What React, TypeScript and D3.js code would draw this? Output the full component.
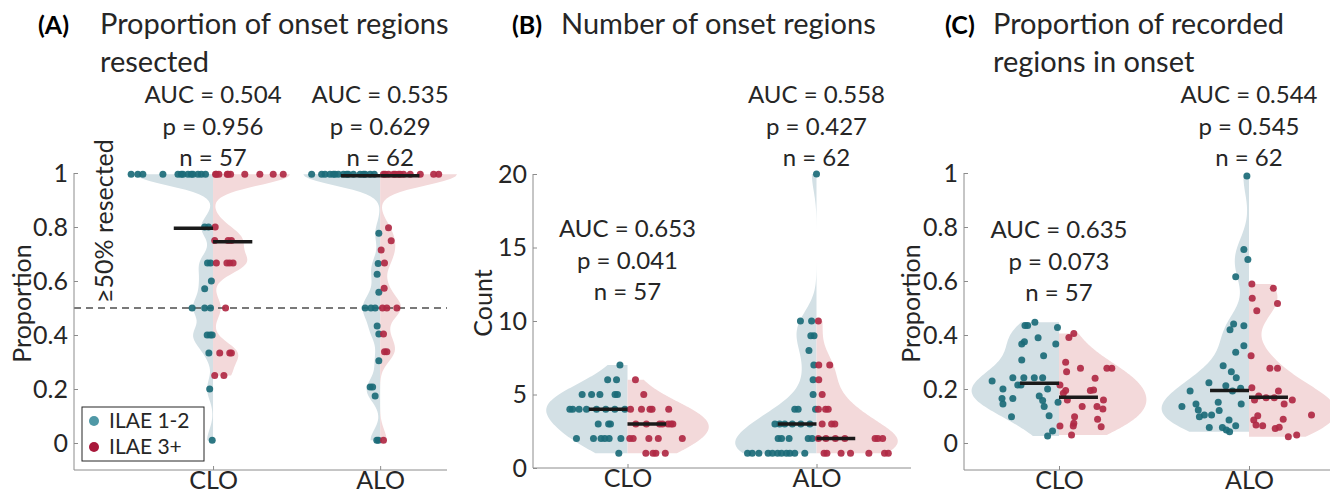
import React, { useEffect, useRef } from "react";
import * as d3 from "d3";

// ---- data ----
const groups = ["CLO", "ALO"];
const outcomes = ["ILAE 1-2", "ILAE 3+"];

// each point: [value, horizontal jitter in category units]
// (A) proportion of onset regions resected
const resectGoodCLO = [
  [0.995, 0.49], [0.995, 0.45], [0.995, 0.42], [0.995, 0.3], [0.995, 0.21], [0.995, 0.19], [0.995, 0.18],
  [0.995, 0.15], [0.995, 0.13], [0.995, 0.12], [0.995, 0.09], [0.995, 0.07], [0.995, 0.045],
  [0.8, 0.05], [0.8, 0.027], [0.667, 0.033], [0.667, 0.015], [0.6, 0.01], [0.571, 0.05],
  [0.5, 0.125], [0.5, 0.05], [0.5, 0.015], [0.4, 0.035], [0.4, 0.017], [0.4, 0.005],
  [0.333, 0.025], [0.2, 0.02], [0.01, 0.005],
];
const resectPoorCLO = [
  [0.995, 0.015], [0.995, 0.02], [0.995, 0.035], [0.995, 0.085], [0.995, 0.09], [0.995, 0.105],
  [0.995, 0.19], [0.995, 0.28], [0.995, 0.36], [0.995, 0.42],
  [0.8, 0.013], [0.75, 0.01], [0.75, 0.09], [0.75, 0.11], [0.667, 0.02], [0.667, 0.083], [0.667, 0.1],
  [0.667, 0.12], [0.5, 0.075], [0.333, 0.04], [0.333, 0.1], [0.333, 0.11], [0.25, 0.01], [0.25, 0.065],
];
const resectGoodALO = [
  [0.995, 0.41], [0.995, 0.35], [0.995, 0.33], [0.995, 0.3], [0.995, 0.28], [0.995, 0.27], [0.995, 0.25],
  [0.995, 0.22], [0.995, 0.2], [0.995, 0.19], [0.995, 0.16], [0.995, 0.12], [0.995, 0.1], [0.995, 0.09],
  [0.995, 0.06], [0.995, 0.035],
  [0.777, 0.008], [0.665, 0.012], [0.625, 0.018], [0.558, 0.008], [0.5, 0.09], [0.5, 0.055], [0.5, 0.03],
  [0.433, 0.018], [0.404, 0.008], [0.305, 0.008], [0.207, 0.06], [0.207, 0.045], [0.174, 0.03],
  [0.01, 0.02], [0.01, 0.01],
];
const resectPoorALO = [
  [0.995, 0.02], [0.995, 0.03], [0.995, 0.05], [0.995, 0.08], [0.995, 0.09], [0.995, 0.11], [0.995, 0.12],
  [0.995, 0.14], [0.995, 0.18], [0.995, 0.24], [0.995, 0.32], [0.995, 0.35],
  [0.797, 0.05], [0.749, 0.066], [0.715, 0.006], [0.667, 0.026], [0.573, 0.024], [0.5, 0.014],
  [0.5, 0.04], [0.5, 0.1], [0.404, 0.02], [0.338, 0.026], [0.338, 0.04], [0.01, 0.02],
];

// (B) number of onset regions
const countGoodCLO = [
  [7, 0.04], [6, 0.105], [6, 0.058], [5, 0.24], [5, 0.19], [5, 0.146], [5, 0.066], [5, 0.053],
  [4, 0.305], [4, 0.29], [4, 0.256], [4, 0.217], [4, 0.164], [4, 0.115], [4, 0.067], [4, 0.014],
  [3, 0.155], [3, 0.1], [3, 0.09], [2, 0.27], [2, 0.18], [2, 0.14], [2, 0.12], [2, 0.097], [2, 0.035],
  [1, 0.046],
];
const countPoorCLO = [
  [6, 0.042], [5, 0.086], [4, 0.016], [4, 0.074], [4, 0.119], [4, 0.13], [4, 0.218],
  [3, 0.044], [3, 0.1], [3, 0.17], [3, 0.185], [3, 0.215], [3, 0.23], [3, 0.24],
  [2, 0.012], [2, 0.03], [2, 0.113], [2, 0.163], [2, 0.29], [1, 0.097], [1, 0.135], [1, 0.15], [1, 0.2],
];
const countGoodALO = [
  [20, 0], [10, 0.085], [10, 0.026], [9, 0.03], [9, 0.013], [8, 0.04], [7, 0.014], [6, 0.018], [5, 0.018],
  [4, 0.115], [4, 0.097], [4, 0.005], [3, 0.22], [3, 0.195], [3, 0.168], [3, 0.128], [3, 0.083], [3, 0.035],
  [2, 0.203], [2, 0.185], [2, 0.145], [2, 0.044], [2, 0.023],
  [1, 0.365], [1, 0.34], [1, 0.305], [1, 0.256], [1, 0.233], [1, 0.206], [1, 0.185], [1, 0.159],
  [1, 0.141], [1, 0.115], [1, 0.062],
];
const countPoorALO = [
  [10, 0.01], [7, 0.012], [7, 0.07], [6, 0.012], [5, 0.03], [4, 0.01], [4, 0.048], [4, 0.062],
  [3, 0.03], [3, 0.08], [3, 0.097], [2, 0.01], [2, 0.05], [2, 0.1], [2, 0.15], [2, 0.31], [2, 0.325],
  [2, 0.35], [1, 0.04], [1, 0.055], [1, 0.13], [1, 0.18], [1, 0.277], [1, 0.36], [1, 0.38],
];

// (C) proportion of recorded regions in onset
const recordedGoodCLO = [
  [0.23, 0.352], [0.2, 0.295], [0.165, 0.3], [0.144, 0.295], [0.097, 0.25], [0.165, 0.243], [0.242, 0.243],
  [0.215, 0.217], [0.307, 0.196], [0.367, 0.196], [0.375, 0.182], [0.435, 0.179], [0.435, 0.165],
  [0.447, 0.127], [0.39, 0.11], [0.323, 0.081], [0.367, 0.017], [0.428, 0.008], [0.215, 0.2],
  [0.242, 0.185], [0.242, 0.13], [0.242, 0.086], [0.174, 0.104], [0.157, 0.086], [0.135, 0.078],
  [0.2, 0.06], [0.101, 0.052], [0.026, 0.06], [0.044, 0.034], [0.151, 0.005],
];
const recordedPoorCLO = [
  [0.406, 0.078], [0.391, 0.052], [0.299, 0.035], [0.264, 0.04], [0.277, 0.113], [0.215, 0.005],
  [0.194, 0.035], [0.063, 0.005], [0.073, 0.078], [0.063, 0.075], [0.03, 0.066], [0.135, 0.122],
  [0.194, 0.165], [0.196, 0.182], [0.24, 0.19], [0.135, 0.2], [0.088, 0.203], [0.06, 0.222],
  [0.159, 0.234], [0.126, 0.231], [0.277, 0.252], [0.277, 0.278], [0.097, 0.082], [0.159, 0.044],
  [0.184, 0.023],
];
const recordedGoodALO = [
  [0.989, 0.011], [0.717, 0.027], [0.68, 0.006], [0.616, 0.07], [0.441, 0.081], [0.419, 0.1],
  [0.434, 0.027], [0.36, 0.027], [0.336, 0.07], [0.286, 0.136], [0.264, 0.093], [0.242, 0.067],
  [0.223, 0.211], [0.212, 0.122], [0.203, 0.044], [0.193, 0.087], [0.193, 0.31], [0.135, 0.353],
  [0.144, 0.279], [0.122, 0.267], [0.104, 0.235], [0.097, 0.261], [0.104, 0.197], [0.151, 0.162],
  [0.12, 0.157], [0.144, 0.041], [0.085, 0.105], [0.064, 0.07], [0.057, 0.209], [0.057, 0.14],
  [0.048, 0.119], [0.042, 0.102],
];
const recordedPoorALO = [
  [0.589, 0.015], [0.573, 0.128], [0.536, 0.017], [0.517, 0.15], [0.49, 0.041], [0.323, 0.011],
  [0.277, 0.11], [0.277, 0.15], [0.205, 0.015], [0.193, 0.155], [0.159, 0.029], [0.174, 0.051],
  [0.168, 0.09], [0.168, 0.133], [0.144, 0.185], [0.159, 0.228], [0.104, 0.329], [0.088, 0.18],
  [0.101, 0.046], [0.085, 0.025], [0.067, 0.037], [0.064, 0.072], [0.054, 0.138], [0.058, 0.159],
  [0.023, 0.207], [0.03, 0.251],
];

// medians per group [CLO, ALO]
const mediansResectGood = [0.795, 0.99];
const mediansResectPoor = [0.745, 0.99];
const mediansCountGood = [4, 3];
const mediansCountPoor = [3, 2];
const mediansRecordedGood = [0.221, 0.194];
const mediansRecordedPoor = [0.169, 0.169];

const statsResect = [["AUC = 0.504", "p = 0.956", "n = 57"], ["AUC = 0.535", "p = 0.629", "n = 62"]];
const statsCount = [["AUC = 0.653", "p = 0.041", "n = 57"], ["AUC = 0.558", "p = 0.427", "n = 62"]];
const statsRecorded = [["AUC = 0.635", "p = 0.073", "n = 57"], ["AUC = 0.544", "p = 0.545", "n = 62"]];

const propTicks = [0, 0.2, 0.4, 0.6, 0.8, 1];
const countTicks = [0, 5, 10, 15, 20];

const panels = [
  {
    tag: "(A)", title: ["Proportion of onset regions", "resected"], ylabel: "Proportion",
    left: 74, right: 447, top: 173, bottom: 470, xDomain: [0.168, 2.4], yDomain: [-0.1, 1],
    ticks: propTicks, bw: 0.04, vWidth: 0.46, medHalf: 0.235, tagX: 38, titleX: 100, ylabelX: 22,
    good: [resectGoodCLO, resectGoodALO], poor: [resectPoorCLO, resectPoorALO],
    medGood: mediansResectGood, medPoor: mediansResectPoor, stats: statsResect, statY: [95, 95],
    threshold: 0.5, legend: true,
  },
  {
    tag: "(B)", title: ["Number of onset regions"], ylabel: "Count",
    left: 533, right: 911, top: 174, bottom: 468, xDomain: [0.5, 2.5], yDomain: [0, 20],
    ticks: countTicks, bw: 1.15, vWidth: 0.43, medHalf: 0.205, tagX: 512, titleX: 561, ylabelX: 483,
    good: [countGoodCLO, countGoodALO], poor: [countPoorCLO, countPoorALO],
    medGood: mediansCountGood, medPoor: mediansCountPoor, stats: statsCount, statY: [229, 95],
  },
  {
    tag: "(C)", title: ["Proportion of recorded", "regions in onset"], ylabel: "Proportion",
    left: 964, right: 1344, top: 173, bottom: 470, xDomain: [0.5, 2.5], yDomain: [-0.1, 1],
    ticks: propTicks, bw: 0.07, vWidth: 0.46, medHalf: 0.205, tagX: 945, titleX: 993, ylabelX: 911,
    good: [recordedGoodCLO, recordedGoodALO], poor: [recordedPoorCLO, recordedPoorALO],
    medGood: mediansRecordedGood, medPoor: mediansRecordedPoor, stats: statsRecorded, statY: [230, 95],
  },
];

const FONT = "Lato, 'Open Sans', sans-serif";
const TXT = "#262626";
const AXIS = "#8c8c8c";
const colors = {
  goodFill: "#d3e0e5", poorFill: "#f3d9da",
  goodDot: "#1b6b78", poorDot: "#b02944",
  goodLegend: "#4f98a6", poorLegend: "#a8173a",
};

// gaussian kernel density over the data range
const kde = (values, bw, steps = 120) => {
  const lo = d3.min(values), hi = d3.max(values);
  return d3.range(steps + 1).map((i) => {
    const y = lo + ((hi - lo) * i) / steps;
    const d = d3.mean(values, (v) => Math.exp(-0.5 * ((y - v) / bw) ** 2)) / (bw * Math.sqrt(2 * Math.PI));
    return [y, d];
  });
};

const App = () => {
  const ref = useRef(null);

  useEffect(() => {
    const svg = d3.select(ref.current);
    svg.selectAll("*").remove();

    panels.forEach((p) => {
      const x = d3.scaleLinear().domain(p.xDomain).range([p.left, p.right]);
      const y = d3.scaleLinear().domain(p.yDomain).range([p.bottom, p.top]);
      const unit = x(2) - x(1);
      const g = svg.append("g");

      // title
      g.append("text").attr("x", p.tagX).attr("y", 34).attr("font-weight", "bold").attr("font-size", 25)
        .attr("font-family", FONT).attr("fill", "#000").text(p.tag);
      p.title.forEach((t, i) => {
        g.append("text").attr("x", p.titleX).attr("y", 34 + i * 38).attr("font-size", 29)
          .attr("font-family", FONT).attr("fill", TXT).text(t);
      });

      // violins, each half scaled to its own peak
      const halfArea = (pts, cx, side) => {
        const dens = kde(pts.map((d) => d[0]), p.bw);
        const maxD = d3.max(dens, (d) => d[1]);
        return d3.area().y((d) => y(d[0])).x0(cx)
          .x1((d) => cx + side * (d[1] / maxD) * p.vWidth * unit)(dens);
      };
      groups.forEach((grp, gi) => {
        const cx = x(gi + 1);
        g.append("path").attr("d", halfArea(p.good[gi], cx, -1)).attr("fill", colors.goodFill);
        g.append("path").attr("d", halfArea(p.poor[gi], cx, 1)).attr("fill", colors.poorFill);
      });

      // threshold line
      if (p.threshold !== undefined) {
        g.append("line").attr("x1", p.left).attr("x2", p.right)
          .attr("y1", y(p.threshold)).attr("y2", y(p.threshold))
          .attr("stroke", "#4d4d4d").attr("stroke-width", 1.3).attr("stroke-dasharray", "7,5");
        g.append("text").attr("transform", `translate(104,${y(p.threshold) - 5}) rotate(-90)`)
          .attr("dy", "0.35em").attr("font-size", 25).attr("font-family", FONT).attr("fill", TXT)
          .text("≥50% resected");
      }

      // points
      groups.forEach((grp, gi) => {
        const cx = x(gi + 1);
        g.append("g").selectAll("circle").data(p.good[gi]).join("circle")
          .attr("cx", (d) => cx - d[1] * unit).attr("cy", (d) => y(d[0])).attr("r", 3.5)
          .attr("fill", colors.goodDot).attr("fill-opacity", 0.92);
        g.append("g").selectAll("circle").data(p.poor[gi]).join("circle")
          .attr("cx", (d) => cx + d[1] * unit).attr("cy", (d) => y(d[0])).attr("r", 3.5)
          .attr("fill", colors.poorDot).attr("fill-opacity", 0.92);
        // medians
        g.append("line").attr("x1", cx - p.medHalf * unit).attr("x2", cx)
          .attr("y1", y(p.medGood[gi])).attr("y2", y(p.medGood[gi]))
          .attr("stroke", "#1a1a1a").attr("stroke-width", 3.5);
        g.append("line").attr("x1", cx).attr("x2", cx + p.medHalf * unit)
          .attr("y1", y(p.medPoor[gi])).attr("y2", y(p.medPoor[gi]))
          .attr("stroke", "#1a1a1a").attr("stroke-width", 3.5);
        // stats
        p.stats[gi].forEach((s, li) => {
          g.append("text").attr("x", cx).attr("y", p.statY[gi] + li * 31.5).attr("dy", "0.35em")
            .attr("text-anchor", "middle").attr("font-size", 24).attr("font-family", FONT)
            .attr("fill", TXT).text(s);
        });
      });

      // axes
      const yAxis = g.append("g").attr("transform", `translate(${p.left},0)`)
        .call(d3.axisLeft(y).tickValues(p.ticks).tickSize(-4).tickPadding(6).tickFormat(d3.format("~g")));
      const xAxis = g.append("g").attr("transform", `translate(0,${p.bottom})`)
        .call(d3.axisBottom(x).tickValues([1, 2]).tickSize(-4).tickPadding(1).tickFormat((d) => groups[d - 1]));
      [yAxis, xAxis].forEach((a) => {
        a.select(".domain").remove();
        a.selectAll(".tick line").attr("stroke", AXIS);
        a.selectAll("text").attr("font-size", 25).attr("font-family", FONT).attr("fill", TXT);
      });
      g.append("line").attr("x1", p.left).attr("x2", p.left).attr("y1", p.top).attr("y2", p.bottom)
        .attr("stroke", AXIS);
      g.append("line").attr("x1", p.left).attr("x2", p.right).attr("y1", p.bottom).attr("y2", p.bottom)
        .attr("stroke", AXIS);

      // y label
      g.append("text").attr("transform", `translate(${p.ylabelX},${(p.top + p.bottom) / 2 - 18}) rotate(-90)`)
        .attr("dy", "0.35em").attr("text-anchor", "middle").attr("font-size", 25)
        .attr("font-family", FONT).attr("fill", TXT).text(p.ylabel);

      // legend
      if (p.legend) {
        const lg = g.append("g").attr("transform", "translate(82,407)");
        lg.append("rect").attr("width", 122).attr("height", 54).attr("fill", "#fff")
          .attr("stroke", "#262626").attr("stroke-width", 1);
        outcomes.forEach((o, i) => {
          lg.append("circle").attr("cx", 12).attr("cy", 14 + i * 26).attr("r", 5)
            .attr("fill", i === 0 ? colors.goodLegend : colors.poorLegend);
          lg.append("text").attr("x", 27).attr("y", 14 + i * 26).attr("dy", "0.35em")
            .attr("font-size", 21).attr("font-family", FONT).attr("fill", TXT).text(o);
        });
      }
    });
  }, []);

  return (
    <svg ref={ref} width={1330} height={494}
      style={{ position: "absolute", left: 0, top: 0, background: "#fff" }} />
  );
};

export default App;
